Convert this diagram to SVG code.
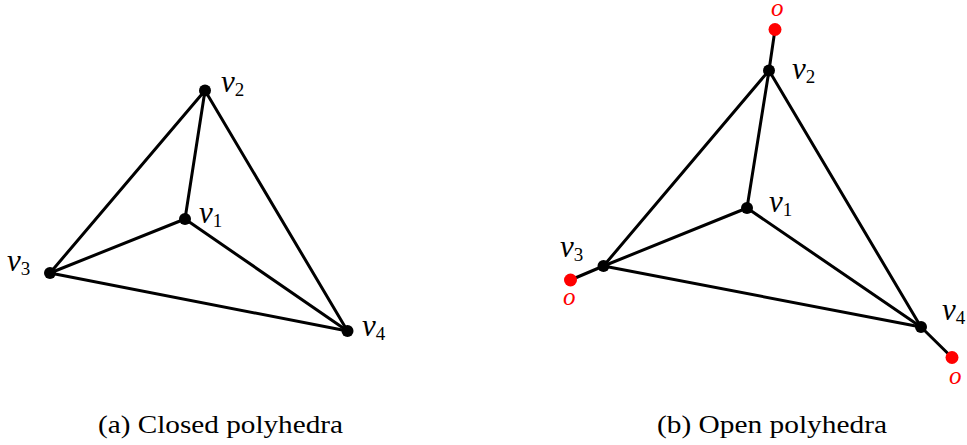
<svg xmlns="http://www.w3.org/2000/svg" width="967" height="445" viewBox="0 0 967 445">
<style>
.e{stroke:#000;stroke-width:3;stroke-linecap:round;fill:none}
.d{fill:#000}
.r{fill:#f00}
.v{font-family:"Liberation Serif",serif;font-style:italic;font-size:31px;fill:#000}
.s{font-style:normal;font-size:19px}
.o{font-family:"Liberation Serif",serif;font-style:italic;font-size:25px;fill:#f00}
.c{font-family:"Liberation Serif",serif;font-size:26px;fill:#000}
</style>
<rect width="967" height="445" fill="#fff"/>
<g id="connectors">
<line class="e" x1="205" y1="90.5" x2="185" y2="219"/>
<line class="e" x1="205" y1="90.5" x2="50" y2="273"/>
<line class="e" x1="205" y1="90.5" x2="347.5" y2="331"/>
<line class="e" x1="185" y1="219" x2="50" y2="273"/>
<line class="e" x1="185" y1="219" x2="347.5" y2="331"/>
<line class="e" x1="50" y1="273" x2="347.5" y2="331"/>
<line class="e" x1="769" y1="70.5" x2="747" y2="208"/>
<line class="e" x1="769" y1="70.5" x2="603.5" y2="266"/>
<line class="e" x1="769" y1="70.5" x2="921" y2="327"/>
<line class="e" x1="747" y1="208" x2="603.5" y2="266"/>
<line class="e" x1="747" y1="208" x2="921" y2="327"/>
<line class="e" x1="603.5" y1="266" x2="921" y2="327"/>
<line class="e" x1="769" y1="70.5" x2="775" y2="29.5"/>
<line class="e" x1="603.5" y1="266" x2="570.5" y2="280"/>
<line class="e" x1="921" y1="327" x2="952" y2="357.5"/>
</g>
<g id="a-v1"><circle class="d" cx="185" cy="219" r="6"/><text class="v" x="199" y="223">v<tspan class="s" dy="4">1</tspan></text></g>
<g id="a-v2"><circle class="d" cx="205" cy="90.5" r="6"/><text class="v" x="221" y="92">v<tspan class="s" dy="4">2</tspan></text></g>
<g id="a-v3"><circle class="d" cx="50" cy="273" r="6"/><text class="v" x="7" y="271">v<tspan class="s" dy="4">3</tspan></text></g>
<g id="a-v4"><circle class="d" cx="347.5" cy="331" r="6"/><text class="v" x="362" y="336">v<tspan class="s" dy="4">4</tspan></text></g>
<g id="b-v1"><circle class="d" cx="747" cy="208" r="6"/><text class="v" x="769" y="212">v<tspan class="s" dy="4">1</tspan></text></g>
<g id="b-v2"><circle class="d" cx="769" cy="70.5" r="6"/><text class="v" x="792" y="79">v<tspan class="s" dy="4">2</tspan></text></g>
<g id="b-v3"><circle class="d" cx="603.5" cy="266" r="6"/><text class="v" x="560" y="257">v<tspan class="s" dy="4">3</tspan></text></g>
<g id="b-v4"><circle class="d" cx="921" cy="327" r="6"/><text class="v" x="942" y="320">v<tspan class="s" dy="4">4</tspan></text></g>
<g id="b-o2"><circle class="r" cx="775" cy="29.5" r="6.5"/><text class="o" x="771" y="16">o</text></g>
<g id="b-o3"><circle class="r" cx="570.5" cy="280" r="6.5"/><text class="o" x="563" y="305">o</text></g>
<g id="b-o4"><circle class="r" cx="952" cy="357.5" r="6.5"/><text class="o" x="949" y="384">o</text></g>
<text class="c" x="98" y="433" textLength="245" lengthAdjust="spacingAndGlyphs">(a) Closed polyhedra</text>
<text class="c" x="657" y="433" textLength="230" lengthAdjust="spacingAndGlyphs">(b) Open polyhedra</text>
</svg>
